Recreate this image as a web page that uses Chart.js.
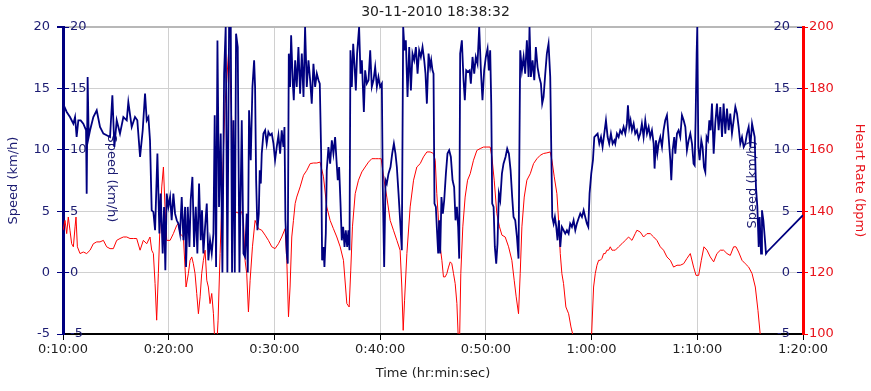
<!DOCTYPE html>
<html><head><meta charset="utf-8">
<script src="https://cdn.jsdelivr.net/npm/chart.js@4.4.0/dist/chart.umd.min.js"></script>
<style>html,body{margin:0;padding:0;background:#fff;}#wrap{width:871px;height:391px;position:relative;}</style>
</head><body><div id="wrap"><canvas id="c"></canvas></div>
<script>
const chartTitle = '30-11-2010 18:38:32';
const xTitle = 'Time (hr:min:sec)';
const speedTitle = 'Speed (km/h)';
const hrTitle = 'Heart Rate (bpm)';
const xTicks = [10, 20, 30, 40, 50, 60, 70, 80];           // minutes
const speedTicks = [-5, 0, 5, 10, 15, 20];
const hrTicks = [100, 120, 140, 160, 180, 200];

// Speed series: time (minutes) and km/h
const speedT = [
10.00,10.35,10.66,10.98,11.14,11.29,11.45,11.67,11.92,12.18,
12.24,12.33,12.43,12.56,12.87,13.19,13.50,13.82,14.13,14.45,
14.67,14.86,15.08,15.39,15.71,16.03,16.18,16.50,16.81,17.03,
17.29,17.54,17.76,17.92,18.08,18.23,18.39,18.55,18.71,18.93,
19.12,19.24,19.43,19.56,19.68,19.81,19.97,20.13,20.28,20.44,
20.60,20.76,20.91,21.07,21.23,21.39,21.55,21.64,21.80,21.96,
22.08,22.24,22.40,22.56,22.71,22.87,23.03,23.15,23.28,23.44,
23.60,23.75,23.91,24.07,24.23,24.35,24.48,24.61,24.76,24.92,
25.08,25.24,25.39,25.55,25.71,25.87,25.99,26.12,26.25,26.37,
26.53,26.69,26.91,27.07,27.22,27.38,27.48,27.60,27.76,27.92,
28.08,28.17,28.27,28.39,28.52,28.61,28.71,28.80,28.96,29.12,
29.27,29.43,29.59,29.75,29.91,30.06,30.22,30.38,30.54,30.69,
30.85,30.95,31.04,31.17,31.26,31.36,31.48,31.58,31.74,31.83,
31.96,32.11,32.27,32.43,32.59,32.75,32.90,33.06,33.22,33.38,
33.53,33.69,33.85,34.01,34.17,34.29,34.42,34.51,34.64,34.73,
34.86,34.95,35.11,35.27,35.43,35.58,35.74,35.87,35.99,36.12,
36.25,36.37,36.50,36.63,36.75,36.88,37.00,37.10,37.19,37.32,
37.45,37.57,37.70,37.82,38.01,38.14,38.27,38.46,38.58,38.74,
38.90,39.06,39.21,39.37,39.53,39.69,39.84,40.00,40.16,40.25,
40.38,40.51,40.63,40.79,40.98,41.14,41.30,41.45,41.58,41.74,
41.89,42.05,42.18,42.31,42.43,42.59,42.75,42.91,43.06,43.22,
43.38,43.54,43.69,43.85,44.01,44.17,44.29,44.42,44.58,44.73,
44.83,44.95,45.05,45.14,45.27,45.36,45.49,45.58,45.68,45.80,
45.93,46.06,46.22,46.37,46.53,46.69,46.85,47.00,47.13,47.26,
47.38,47.48,47.57,47.73,47.89,48.01,48.14,48.30,48.46,48.58,
48.74,48.90,49.05,49.21,49.37,49.53,49.68,49.84,50.00,50.16,
50.28,50.41,50.51,50.60,50.73,50.85,50.98,51.10,51.23,51.36,
51.52,51.67,51.86,52.02,52.18,52.34,52.49,52.62,52.78,52.94,
53.09,53.25,53.41,53.57,53.72,53.88,54.04,54.13,54.26,54.42,
54.58,54.73,54.89,55.05,55.21,55.33,55.46,55.62,55.77,55.93,
56.09,56.19,56.28,56.41,56.53,56.66,56.78,56.91,57.04,57.19,
57.35,57.51,57.67,57.83,57.98,58.14,58.30,58.46,58.61,58.77,
58.93,59.09,59.25,59.40,59.56,59.69,59.81,59.97,60.13,60.26,
60.41,60.57,60.73,60.89,61.04,61.20,61.36,61.52,61.67,61.83,
61.99,62.15,62.24,62.40,62.56,62.71,62.87,63.03,63.19,63.34,
63.44,63.57,63.69,63.82,63.98,64.13,64.29,64.45,64.61,64.76,
64.92,65.08,65.24,65.40,65.55,65.71,65.87,65.96,66.09,66.22,
66.34,66.50,66.66,66.81,66.97,67.13,67.29,67.45,67.54,67.67,
67.82,67.92,68.08,68.23,68.39,68.55,68.71,68.87,69.02,69.18,
69.34,69.50,69.65,69.75,69.84,69.94,70.00,70.10,70.22,70.38,
70.50,70.63,70.76,70.88,71.01,71.14,71.26,71.39,71.55,71.70,
71.86,72.02,72.18,72.34,72.49,72.65,72.81,72.97,73.12,73.28,
73.44,73.60,73.76,73.91,74.07,74.23,74.39,74.54,74.70,74.86,
75.02,75.18,75.30,75.43,75.55,75.68,75.81,75.90,76.03,76.12,
76.25,76.38,76.50,76.60,80.00
];
const speedV = [
13.76,13.08,12.67,12.13,12.67,11.04,12.40,12.40,12.13,11.59,
6.43,15.93,11.04,11.59,12.67,13.22,11.86,11.32,11.18,11.04,
14.44,10.23,12.40,11.32,12.67,12.40,13.89,11.86,12.67,12.40,
9.42,11.59,14.57,12.40,12.67,10.77,5.07,4.94,3.45,9.69,
3.18,6.43,1.55,5.35,0.19,6.43,5.35,6.16,4.26,6.43,
4.80,4.26,3.99,3.18,6.16,2.63,5.35,0.46,5.35,2.09,
5.89,7.79,2.09,5.35,1.55,7.25,2.63,5.07,1.55,3.72,
5.62,1.00,2.63,1.55,3.18,12.81,0.46,18.91,5.35,11.32,
0,16.20,20,0,20,20,0,12.40,0,19.46,
18.37,0,12.40,1.55,1.28,4.80,0,13.22,9.15,15.12,
17.29,15.12,7.52,3.45,4.80,8.33,7.25,9.69,11.32,11.59,
10.50,11.45,11.18,11.32,10.50,9.15,10.23,11.18,9.69,11.59,
10.23,11.86,4.26,1.55,0.73,17.83,15.12,19.32,15.39,14.03,
17.29,15.12,18.37,14.57,17.83,14.30,20,15.12,17.29,15.66,
13.76,17.01,15.12,16.20,15.66,15.39,9.69,1.00,2.09,0.46,
3.18,8.33,10.23,8.87,10.77,9.69,11.04,9.15,7.52,8.60,
5.62,2.63,3.72,2.09,3.45,2.09,3.45,1.82,18.10,15.12,
18.64,17.01,14.84,17.83,20,16.20,17.29,13.08,16.47,15.39,
15.66,18.10,15.12,15.66,16.74,15.12,15.93,15.12,15.39,6.97,
0.46,7.52,7.25,8.06,8.60,9.69,10.50,9.69,8.60,6.43,
4.26,1.82,20,18.10,18.91,14.30,18.37,14.84,17.83,17.29,
18.37,16.20,18.10,17.56,18.37,17.29,16.20,13.76,17.83,16.74,
17.29,16.47,16.20,5.62,5.35,3.72,1.55,4.26,1.55,6.16,
4.80,5.89,8.06,9.69,9.96,9.42,7.52,6.97,4.26,5.35,
3.72,1.14,17.83,18.91,15.66,14.03,16.47,16.34,16.47,15.39,
17.56,16.20,17.56,17.01,20,16.47,14.03,16.47,17.56,18.24,
16.47,18.10,13.76,5.62,5.35,2.09,0.73,2.36,6.43,5.89,
8.06,8.87,9.42,10.09,9.69,8.33,6.16,4.53,4.26,2.90,
1.14,18.10,16.47,17.56,16.20,18.91,15.93,20,15.93,17.29,
15.66,18.37,16.74,15.93,15.39,13.76,14.30,16.20,17.83,18.64,
15.93,9.96,4.53,3.99,4.53,3.72,2.63,4.26,2.09,3.72,
3.45,3.18,3.45,3.18,3.99,3.72,4.26,3.45,3.99,4.40,
4.80,4.53,5.07,4.53,3.99,3.72,6.43,8.06,9.15,11.04,
11.18,11.32,10.50,11.04,10.23,11.32,12.40,11.04,10.50,11.32,
10.50,10.77,10.50,11.32,11.04,11.59,11.32,11.86,11.32,12.13,
13.62,11.86,12.40,11.59,12.13,11.32,11.59,10.91,11.32,12.13,
11.04,12.40,11.32,11.86,11.04,11.59,10.50,8.47,10.77,9.69,
10.50,11.04,10.23,11.59,12.40,12.81,11.04,9.15,7.52,9.96,
11.04,9.69,11.32,11.59,11.04,12.81,12.40,11.86,9.96,10.77,
11.32,10.50,8.87,8.74,12.40,17.83,20,10.23,9.15,10.77,
10.23,8.60,8.20,11.04,10.77,12.40,11.59,13.76,9.69,12.13,
13.76,11.59,13.49,11.04,13.76,11.32,13.35,11.59,12.94,11.32,
12.40,13.49,12.94,11.86,10.50,11.04,10.23,10.50,11.32,11.86,
10.23,12.13,11.59,11.04,6.97,5.35,2.09,4.53,1.55,5.07,
4.26,2.90,1.55,1.68,4.67
];

// Heart rate series: time (minutes) and bpm
const hrT = [
10.00,10.19,10.35,10.50,10.66,10.82,10.98,11.14,11.23,11.36,
11.61,11.92,12.24,12.56,12.87,13.19,13.50,13.82,14.13,14.45,
14.76,15.08,15.39,15.71,16.03,16.34,16.66,16.97,17.29,17.60,
17.92,18.23,18.39,18.55,18.71,18.86,19.02,19.18,19.34,19.50,
19.65,19.81,20.13,20.44,20.76,20.91,21.07,21.39,21.64,21.86,
22.02,22.18,22.33,22.49,22.65,22.81,22.97,23.12,23.28,23.44,
23.60,23.75,23.91,24.07,24.23,24.38,24.54,24.67,24.86,25.02,
25.17,25.33,25.49,25.65,25.80,25.96,26.12,26.28,26.59,26.91,
27.07,27.22,27.38,27.54,27.70,27.92,28.17,28.49,28.80,29.12,
29.43,29.75,30.06,30.38,30.69,31.01,31.17,31.33,31.48,31.64,
31.80,31.96,32.11,32.43,32.75,33.06,33.38,33.69,34.01,34.32,
34.64,34.95,35.27,35.58,35.90,36.22,36.53,36.85,37.07,37.22,
37.38,37.64,37.95,38.27,38.58,38.90,39.21,39.53,39.84,40.10,
40.32,40.63,40.95,41.26,41.58,41.89,42.05,42.18,42.31,42.53,
42.84,43.16,43.47,43.79,44.10,44.42,44.73,45.05,45.21,45.36,
45.52,45.68,45.84,45.99,46.15,46.31,46.47,46.63,46.78,46.94,
47.10,47.26,47.41,47.51,47.63,47.82,48.04,48.27,48.52,48.83,
49.15,49.46,49.78,50.10,50.41,50.57,50.79,51.04,51.29,51.52,
51.83,52.15,52.46,52.68,52.87,53.09,53.25,53.41,53.63,53.88,
54.20,54.51,54.83,55.14,55.46,55.77,56.09,56.25,56.47,56.72,
56.88,57.04,57.19,57.35,57.57,57.83,58.05,58.24,58.61,59.81,
60.00,60.19,60.35,60.51,60.67,60.82,60.98,61.14,61.30,61.45,
61.61,61.77,61.93,62.09,62.24,62.56,62.87,63.19,63.50,63.82,
64.13,64.29,64.61,64.92,65.24,65.55,65.87,66.18,66.50,66.81,
67.13,67.45,67.76,68.08,68.39,68.71,69.02,69.34,69.65,69.88,
70.13,70.38,70.63,70.92,71.23,71.55,71.86,72.18,72.49,72.81,
73.12,73.44,73.66,73.91,74.23,74.54,74.86,75.18,75.49,75.74,
75.96,76.12
];
const hrV = [
133.8,137.0,132.7,138.1,133.8,129.4,128.4,134.9,138.1,128.4,
126.2,126.7,126.2,127.3,129.4,130.0,130.0,130.5,128.4,127.8,
127.8,130.5,131.1,131.6,131.6,131.1,131.1,131.1,127.3,130.5,
129.4,131.6,127.3,126.2,116.4,104.5,119.7,136.0,147.9,154.4,
141.4,130.5,130.5,132.7,135.4,136.0,132.7,131.6,115.3,119.7,
124.0,125.1,122.9,119.7,113.2,106.6,112.1,119.7,124.0,127.3,
117.5,115.3,109.9,113.2,106.6,96,96,104.5,126.2,142.5,
158.8,175.0,182.6,191.3,184.8,169.6,153.3,139.8,139.4,139.8,
137.0,124.0,119.7,107.2,117.5,128.4,137.0,134.3,133.8,132.2,
130.5,128.4,127.8,129.4,131.6,134.3,124.0,105.6,115.3,131.6,
137.0,142.5,144.6,147.9,151.7,153.3,155.5,155.7,155.7,156.0,
151.2,141.4,137.0,134.3,131.6,128.4,124.0,109.9,108.8,120.8,
134.9,145.7,150.1,152.8,154.4,156.0,157.1,157.1,157.1,157.1,
151.2,144.6,137.0,133.8,130.5,127.3,115.3,101.2,111.0,126.2,
141.4,150.1,154.4,155.5,157.7,159.3,159.3,158.8,156.6,145.7,
137.0,128.4,124.0,118.6,118.6,119.7,121.8,123.5,122.9,119.7,
116.4,109.9,97,97,119.7,134.9,144.6,150.1,152.2,156.6,
159.8,160.4,160.9,160.9,160.9,157.7,150.1,139.2,134.9,132.2,
131.6,128.4,124.0,117.5,112.1,106.6,119.7,134.9,144.6,150.1,
152.2,155.5,157.1,158.2,158.8,159.0,159.3,156.6,151.2,145.7,
137.0,126.2,119.7,116.4,108.8,106.6,102.3,99.6,94,94,
99.6,115.3,119.7,122.4,124.0,124.0,124.6,126.2,126.2,127.3,
127.3,128.4,127.3,127.3,127.3,128.4,129.4,130.5,131.6,130.5,
132.7,133.8,133.2,131.6,132.7,132.7,131.6,130.5,128.4,127.3,
125.1,124.0,121.8,122.4,122.4,122.9,124.6,126.2,121.8,119.1,
119.1,124.0,128.4,127.3,125.1,123.5,126.2,127.3,127.3,126.2,
125.6,128.4,128.4,126.7,124.0,122.9,121.8,119.7,115.3,107.7,
99.6,94
];

const FONT = 'DejaVu Sans';
const NAVY_TEXT = '#1c1c72';
const NAVY = '#000080';
const RED = '#ff0000';
const RED_TEXT = '#e8141c';
const GRID = '#d0d0d0';

function fmtTime(m) {
  const total = Math.round(m * 60);
  const h = Math.floor(total / 3600);
  const mm = Math.floor((total % 3600) / 60);
  const ss = total % 60;
  return h + ':' + String(mm).padStart(2, '0') + ':' + String(ss).padStart(2, '0');
}
const setTicks = (arr) => (s) => { s.ticks = arr.map(v => ({ value: v })); };

Chart.defaults.font.family = FONT;
Chart.defaults.font.size = 13;

const innerTitles = {
  id: 'innerTitles',
  beforeDatasetsDraw(chart) {
    const { ctx, chartArea: a } = chart;
    const cy = (a.top + a.bottom) / 2;
    ctx.save();
    ctx.font = '13px "' + FONT + '"';
    ctx.fillStyle = NAVY_TEXT;
    ctx.textAlign = 'center';
    ctx.textBaseline = 'middle';
    ctx.translate(a.left + 48, cy - 2);
    ctx.rotate(Math.PI / 2);
    ctx.fillText(speedTitle, 0, 0);
    ctx.restore();
    ctx.save();
    ctx.font = '13px "' + FONT + '"';
    ctx.fillStyle = NAVY_TEXT;
    ctx.textAlign = 'center';
    ctx.textBaseline = 'middle';
    ctx.translate(a.right - 50, cy + 4);
    ctx.rotate(-Math.PI / 2);
    ctx.fillText(speedTitle, 0, 0);
    ctx.restore();
  }
};

new Chart(document.getElementById('c'), {
  type: 'line',
  data: {
    datasets: [
      {
        label: speedTitle,
        data: speedT.map((t, i) => ({ x: t, y: speedV[i] })),
        borderColor: NAVY, borderWidth: 1.8, pointRadius: 0, tension: 0,
        xAxisID: 'x', yAxisID: 'y'
      },
      {
        label: hrTitle,
        data: hrT.map((t, i) => ({ x: t, y: hrV[i] })),
        borderColor: RED, borderWidth: 1, pointRadius: 0, tension: 0,
        xAxisID: 'x', yAxisID: 'hr'
      }
    ]
  },
  options: {
    responsive: true, maintainAspectRatio: false, animation: false,
    layout: { padding: 0 },
    plugins: {
      legend: { display: false },
      tooltip: { enabled: false },
      title: {
        display: true, text: chartTitle, color: '#222',
        font: { size: 14, weight: 'normal' }, padding: { top: 4, bottom: 6.2 }
      }
    },
    scales: {
      x: {
        type: 'linear', position: 'bottom', min: 10, max: 80,
        afterBuildTicks: setTicks(xTicks),
        ticks: { color: '#222', padding: 2, maxRotation: 0, autoSkip: false, callback: v => fmtTime(v) },
        grid: { color: GRID, tickColor: '#000', tickLength: 6 },
        border: { color: '#000', width: 2 },
        title: { display: true, text: xTitle, color: '#222', padding: { top: 0, bottom: 10 } },
        afterFit: s => { s.height = 57; }
      },
      y: {
        type: 'linear', position: 'left', min: -5, max: 20, weight: 1,
        afterBuildTicks: setTicks(speedTicks),
        ticks: { color: NAVY_TEXT, padding: 7 },
        grid: {
          color: c => (c.tick && c.tick.value === 20) ? '#b8b8b8' : GRID,
          lineWidth: c => (c.tick && c.tick.value === 20) ? 2 : 1,
          tickColor: NAVY, tickLength: 6
        },
        border: { color: NAVY, width: 3 },
        title: { display: true, text: speedTitle, color: NAVY_TEXT, padding: { top: 6, bottom: 0 } },
        afterFit: s => { s.width = 63; }
      },
      y2: {
        type: 'linear', position: 'left', min: -5, max: 20, weight: 0,
        afterBuildTicks: setTicks(speedTicks),
        ticks: { color: NAVY_TEXT, mirror: true, padding: 7 },
        grid: { drawOnChartArea: false, tickColor: NAVY, tickLength: -6 },
        border: { display: false },
        afterFit: s => { s.width = 0; }
      },
      yR: {
        type: 'linear', position: 'right', min: -5, max: 20, weight: 0,
        afterBuildTicks: setTicks(speedTicks),
        ticks: { color: NAVY_TEXT, mirror: true, padding: -13 },
        grid: { drawOnChartArea: false, tickColor: NAVY, tickLength: -6 },
        border: { display: false },
        afterFit: s => { s.width = 0; }
      },
      hr: {
        type: 'linear', position: 'right', min: 100, max: 200, weight: 1,
        afterBuildTicks: setTicks(hrTicks),
        ticks: { color: RED_TEXT, padding: 1 },
        grid: { drawOnChartArea: false, tickColor: RED, tickLength: 5 },
        border: { color: RED, width: 3 },
        title: { display: true, text: hrTitle, color: RED_TEXT, padding: { top: 4, bottom: 0 } },
        afterFit: s => { s.width = 68; }
      }
    }
  },
  plugins: [innerTitles]
});
</script>
</body></html>
